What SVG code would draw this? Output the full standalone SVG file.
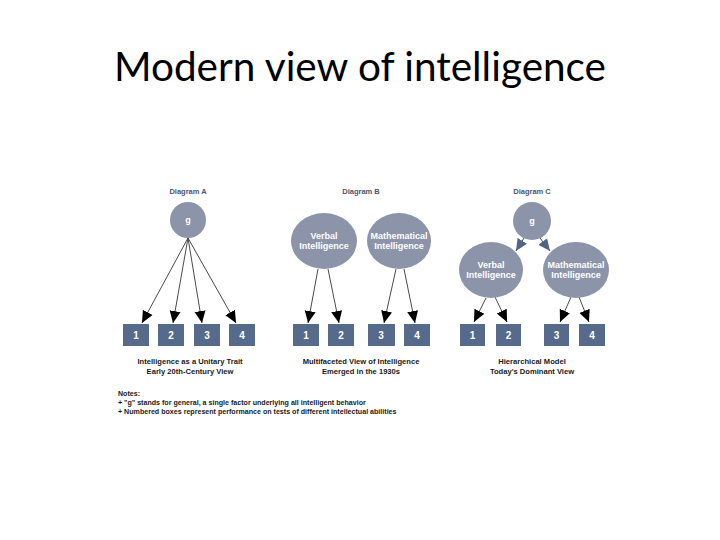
<svg xmlns="http://www.w3.org/2000/svg" width="720" height="540" viewBox="0 0 720 540">
<style>
.title{font-family:Lato,"Open Sans",sans-serif;font-size:40.5px;fill:#000;text-anchor:middle}
.dlab{font-family:"Liberation Sans",Arial,sans-serif;font-weight:bold;font-size:7.5px;fill:#4a5572;text-anchor:middle}
.node{fill:#8b94a9}
.ntxt{font-family:"Liberation Sans",Arial,sans-serif;font-weight:bold;font-size:9px;fill:#fff;text-anchor:middle}
.box{fill:#566a8b}
.btxt{font-family:"Liberation Sans",Arial,sans-serif;font-weight:bold;font-size:10px;fill:#fff;text-anchor:middle}
.cap{font-family:"Liberation Sans",Arial,sans-serif;font-weight:bold;font-size:7.6px;fill:#1a1a1a;text-anchor:middle}
.note{font-family:"Liberation Sans",Arial,sans-serif;font-weight:bold;font-size:7.1px;fill:#1a1a1a}
.edge{stroke:#4a4a4a;stroke-width:1;fill:none;marker-end:url(#ah)}
.edge2{stroke:#4a4a4a;stroke-width:1;fill:none;marker-end:url(#ah2)}
</style>
<defs>
<marker id="ah" markerUnits="userSpaceOnUse" markerWidth="13" markerHeight="13" viewBox="0 0 13 13" refX="12" refY="6.5" orient="auto">
<path d="M0,1 L12,6.5 L0,12 Z" fill="#000"/>
</marker>
<marker id="ah2" markerUnits="userSpaceOnUse" markerWidth="13" markerHeight="13" viewBox="0 0 13 13" refX="12" refY="6.5" orient="auto">
<path d="M0,1 L12,6.5 L0,12 Z" fill="#4f6583"/>
</marker>
</defs>
<rect width="720" height="540" fill="#fff"/>
<text class="title" x="360" y="81">Modern view of intelligence</text>

<text class="dlab" x="188" y="194">Diagram A</text>
<text class="dlab" x="361" y="194">Diagram B</text>
<text class="dlab" x="532" y="194">Diagram C</text>

<g id="connectors">
<line class="edge" x1="188" y1="238" x2="142" y2="323"/>
<line class="edge" x1="188" y1="238" x2="173" y2="323"/>
<line class="edge" x1="188" y1="238" x2="202" y2="323"/>
<line class="edge" x1="188" y1="238" x2="236" y2="323"/>
<line class="edge" x1="318" y1="269" x2="308" y2="323"/>
<line class="edge" x1="328" y1="269" x2="339" y2="323"/>
<line class="edge" x1="396" y1="269" x2="384" y2="323"/>
<line class="edge" x1="404" y1="269" x2="415" y2="323"/>
<line class="edge2" x1="524" y1="238" x2="516" y2="251"/>
<line class="edge2" x1="540" y1="238" x2="550" y2="251"/>
<line class="edge" x1="486" y1="298" x2="474" y2="322"/>
<line class="edge" x1="495" y1="297" x2="507" y2="322"/>
<line class="edge" x1="571" y1="297" x2="560" y2="322"/>
<line class="edge" x1="579" y1="297" x2="589" y2="322"/>
</g>

<g id="A-g"><circle class="node" cx="188" cy="220" r="18"/><text class="ntxt" x="188" y="223">g</text></g>
<g id="A-1"><rect class="box" x="123" y="324" width="26" height="22"/><text class="btxt" x="136" y="339">1</text></g>
<g id="A-2"><rect class="box" x="158" y="324" width="26" height="22"/><text class="btxt" x="171" y="339">2</text></g>
<g id="A-3"><rect class="box" x="194" y="324" width="26" height="22"/><text class="btxt" x="207" y="339">3</text></g>
<g id="A-4"><rect class="box" x="229" y="324" width="26" height="22"/><text class="btxt" x="242" y="339">4</text></g>

<g id="B-verbal"><ellipse class="node" cx="324" cy="241" rx="33" ry="28"/><text class="ntxt" x="324" y="239">Verbal</text><text class="ntxt" x="324" y="249">Intelligence</text></g>
<g id="B-math"><ellipse class="node" cx="399" cy="241" rx="32" ry="28"/><text class="ntxt" x="399" y="239">Mathematical</text><text class="ntxt" x="399" y="249">Intelligence</text></g>
<g id="B-1"><rect class="box" x="293" y="324" width="26" height="22"/><text class="btxt" x="306" y="339">1</text></g>
<g id="B-2"><rect class="box" x="328" y="324" width="26" height="22"/><text class="btxt" x="341" y="339">2</text></g>
<g id="B-3"><rect class="box" x="368" y="324" width="27" height="22"/><text class="btxt" x="381" y="339">3</text></g>
<g id="B-4"><rect class="box" x="404" y="324" width="26" height="22"/><text class="btxt" x="417" y="339">4</text></g>

<g id="C-g"><circle class="node" cx="532" cy="221" r="19"/><text class="ntxt" x="532" y="224">g</text></g>
<g id="C-verbal"><ellipse class="node" cx="491" cy="270" rx="32" ry="28"/><text class="ntxt" x="491" y="268">Verbal</text><text class="ntxt" x="491" y="278">Intelligence</text></g>
<g id="C-math"><ellipse class="node" cx="576" cy="270" rx="33" ry="28"/><text class="ntxt" x="576" y="268">Mathematical</text><text class="ntxt" x="576" y="278">Intelligence</text></g>
<g id="C-1"><rect class="box" x="460" y="324" width="25" height="22"/><text class="btxt" x="472.5" y="339">1</text></g>
<g id="C-2"><rect class="box" x="496" y="324" width="25" height="22"/><text class="btxt" x="508.5" y="339">2</text></g>
<g id="C-3"><rect class="box" x="544" y="324" width="25" height="22"/><text class="btxt" x="556.5" y="339">3</text></g>
<g id="C-4"><rect class="box" x="579" y="324" width="26" height="22"/><text class="btxt" x="592" y="339">4</text></g>

<text class="cap" x="190" y="364">Intelligence as a Unitary Trait</text>
<text class="cap" x="190" y="374">Early 20th-Century View</text>
<text class="cap" x="361" y="364">Multifaceted View of Intelligence</text>
<text class="cap" x="361" y="374">Emerged in the 1930s</text>
<text class="cap" x="532" y="364">Hierarchical Model</text>
<text class="cap" x="532" y="374">Today's Dominant View</text>

<text class="note" x="118" y="396">Notes:</text>
<text class="note" x="118" y="405">+ "g" stands for general, a single factor underlying all intelligent behavior</text>
<text class="note" x="118" y="414">+ Numbered boxes represent performance on tests of different intellectual abilities</text>
</svg>
